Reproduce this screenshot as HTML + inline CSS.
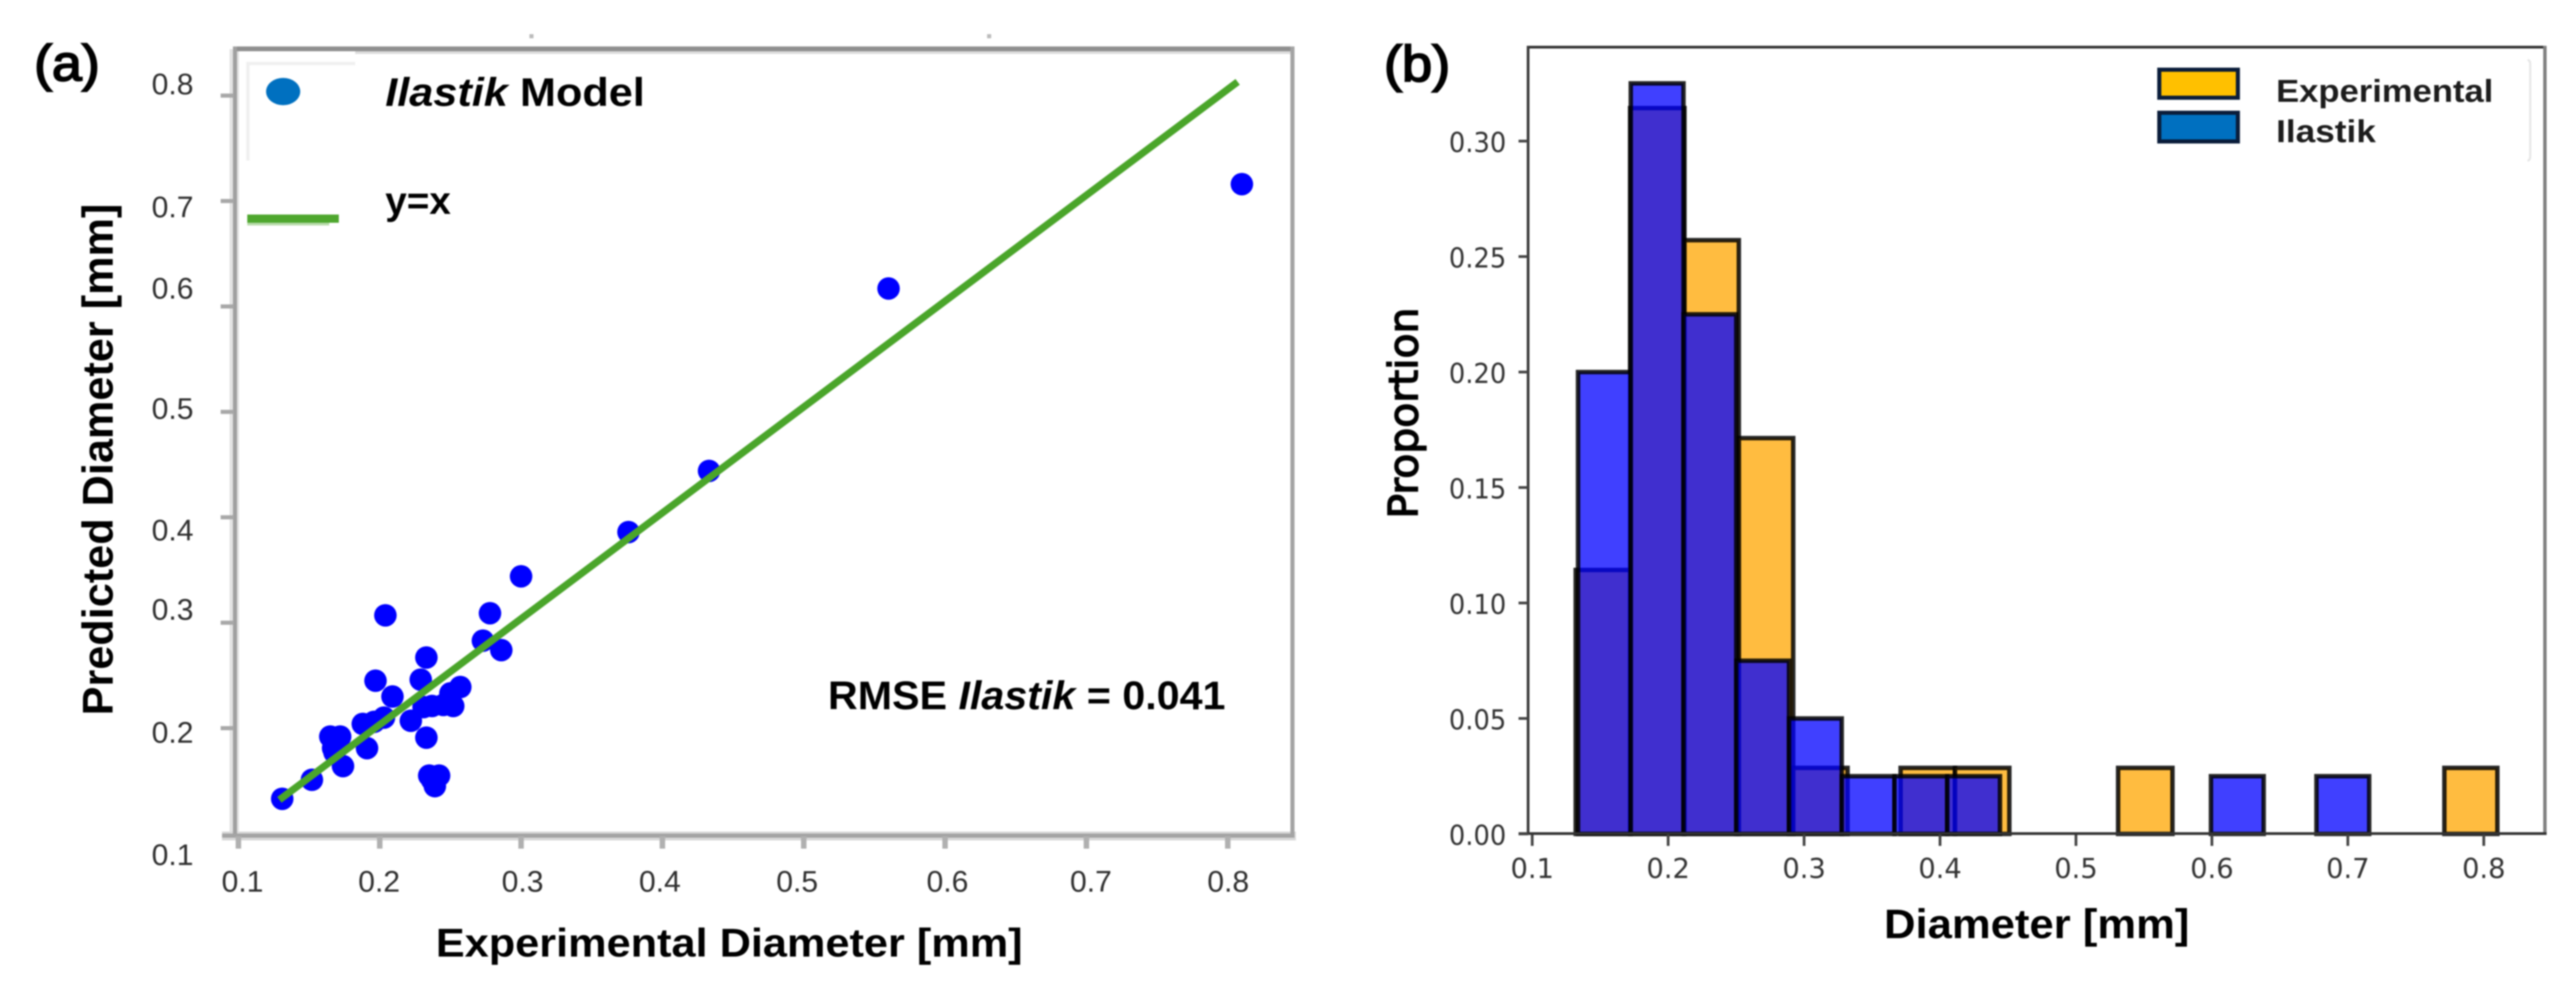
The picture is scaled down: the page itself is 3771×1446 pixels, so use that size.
<!DOCTYPE html>
<html lang="en">
<head>
<meta charset="utf-8">
<title>Ilastik model vs experimental diameter</title>
<style>
html,body{margin:0;padding:0;background:#fff;width:3771px;height:1446px;overflow:hidden}
svg{display:block;filter:blur(1.1px)}
text{font-family:"Liberation Sans",sans-serif}
.tickA{font-size:44px;fill:#2e2e2e}
.tickB{font-family:"DejaVu Sans",sans-serif;font-size:40px;fill:#333}
.bold{font-weight:bold;fill:#000}
</style>
</head>
<body>
<svg id="figure" xmlns="http://www.w3.org/2000/svg" width="3771" height="1446" viewBox="0 0 3771 1446">
  <rect width="3771" height="1446" fill="#fff"/>

  <g id="panel-a">
    <text x="50" y="118" textLength="96" lengthAdjust="spacingAndGlyphs" style="font-size:74px;stroke:#000;stroke-width:2.5px">(a)</text>
    <rect x="775" y="50" width="6" height="6" fill="#bbb"/>
    <rect x="1445" y="50" width="6" height="6" fill="#bbb"/>
    <g>
      <rect x="520" y="74" width="1372" height="5" fill="#dcdcdc"/>
      <rect x="336" y="72" width="14" height="1156" fill="#e4e4e4"/>
      <rect x="325" y="1217" width="1572" height="13" fill="#d8d8d8"/>
      <rect x="341" y="68" width="1554" height="7" fill="#8f8f8f"/>
      <rect x="341" y="68" width="6" height="1158" fill="#a0a0a0"/>
      <rect x="1889" y="68" width="6" height="1158" fill="#a4a4a4"/>
      <rect x="325" y="1220" width="1570" height="6" fill="#a4a4a4"/>
    </g>
    <g id="ticks-a"></g>
    <g>
      <text class="tickA" x="222" y="138">0.8</text>
      <text class="tickA" x="222" y="318">0.7</text>
      <text class="tickA" x="222" y="437">0.6</text>
      <text class="tickA" x="222" y="613">0.5</text>
      <text class="tickA" x="222" y="791">0.4</text>
      <text class="tickA" x="222" y="907">0.3</text>
      <text class="tickA" x="222" y="1087">0.2</text>
      <text class="tickA" x="222" y="1266">0.1</text>
    </g>
    <g text-anchor="middle">
      <text class="tickA" x="355" y="1305">0.1</text>
      <text class="tickA" x="555" y="1305">0.2</text>
      <text class="tickA" x="765" y="1305">0.3</text>
      <text class="tickA" x="966" y="1305">0.4</text>
      <text class="tickA" x="1167" y="1305">0.5</text>
      <text class="tickA" x="1387" y="1305">0.6</text>
      <text class="tickA" x="1597" y="1305">0.7</text>
      <text class="tickA" x="1798" y="1305">0.8</text>
    </g>
    <g id="scatter-points"></g>
    <g id="identity-line-group"></g>
    <g>
      <path d="M363 235V93H520" fill="none" stroke="#f0f0f0" stroke-width="5"/>
      <ellipse cx="414.5" cy="134" rx="25" ry="20" fill="#0070c0"/>
      <text class="bold" x="564" y="155" textLength="380" lengthAdjust="spacingAndGlyphs" style="font-size:58px"><tspan font-style="italic">Ilastik</tspan> Model</text>
      <rect x="362" y="326" width="120" height="4" fill="#b8dbab"/>
      <rect x="362" y="314" width="134" height="12" fill="#4ea72e"/>
      <text class="bold" x="564" y="313" textLength="96" lengthAdjust="spacingAndGlyphs" style="font-size:57px">y=x</text>
    </g>
    <text class="bold" x="1212" y="1038" textLength="582" lengthAdjust="spacingAndGlyphs" style="font-size:58px">RMSE <tspan font-style="italic">Ilastik</tspan> = 0.041</text>
    <text class="bold" x="638" y="1400" textLength="859" lengthAdjust="spacingAndGlyphs" style="font-size:58px">Experimental Diameter [mm]</text>
    <text class="bold" transform="translate(165,1047) rotate(-90)" textLength="749" lengthAdjust="spacingAndGlyphs" style="font-size:63px">Predicted Diameter [mm]</text>
  </g>

  <g id="panel-b">
    <text x="2026" y="119" textLength="97" lengthAdjust="spacingAndGlyphs" style="font-size:74px;stroke:#000;stroke-width:2.5px">(b)</text>
    <g id="bars-experimental"></g>
    <g id="bars-ilastik"></g>
    <g>
      <rect x="2235" y="67" width="1493" height="4" fill="#333"/>
      <rect x="2235" y="67" width="4" height="1155" fill="#3a3a3a"/>
      <rect x="3723" y="67" width="5" height="1155" fill="#808080"/>
      <rect x="2223" y="1218" width="1505" height="4" fill="#333"/>
    </g>
    <g id="ticks-b"></g>
    <g>
      <rect x="3161" y="102" width="115" height="41" fill="#ffc000" stroke="#0a1d3a" stroke-width="6"/>
      <rect x="3161" y="165" width="115" height="42" fill="#0070c0" stroke="#0a1d3a" stroke-width="6"/>
      <text x="3332" y="149" textLength="318" lengthAdjust="spacingAndGlyphs" style="font-size:46px;font-weight:bold;fill:#1c1c1c">Experimental</text>
      <text x="3332" y="208" textLength="146" lengthAdjust="spacingAndGlyphs" style="font-size:46px;font-weight:bold;fill:#1c1c1c">Ilastik</text>
      <path d="M3700 88Q3704 88 3704 94V228Q3704 235 3700 235" fill="none" stroke="#e6e6e6" stroke-width="3"/>
    </g>
    <text transform="translate(2075,759) rotate(-90)" textLength="309" lengthAdjust="spacingAndGlyphs" style="font-family:'DejaVu Sans',sans-serif;font-size:59px;fill:#000;stroke:#000;stroke-width:2px">Proportion</text>
    <text class="bold" x="2758" y="1373" textLength="447" lengthAdjust="spacingAndGlyphs" style="font-size:60px">Diameter [mm]</text>
  </g>
</svg>

<script>
// Panel (a): scatter values
const experimentalDiameter = [0.131,0.152,0.174,0.191,0.165,0.172,0.168,0.167,0.188,0.196,0.203,0.209,0.197,0.233,0.229,0.222,0.233,0.204,0.300,0.278,0.273,0.286,0.257,0.250,0.237,0.231,0.245,0.252,0.235,0.242,0.239,0.237,0.376,0.433,0.560,0.810];
const predictedDiameter    = [0.133,0.151,0.164,0.181,0.192,0.192,0.177,0.181,0.204,0.206,0.210,0.230,0.245,0.267,0.246,0.207,0.191,0.307,0.344,0.309,0.283,0.274,0.239,0.233,0.221,0.220,0.222,0.221,0.155,0.155,0.145,0.151,0.386,0.444,0.617,0.716];
const lineX = [0.129,0.807];
const lineY = [0.132,0.813];
const xTicksA = [0.1,0.2,0.3,0.4,0.5,0.6,0.7,0.8];
const yTicksA = [0.2,0.3,0.4,0.5,0.6,0.7,0.8];

// Panel (b): histogram bins and proportions
const experimentalEdges = [0.132,0.172,0.212,0.252,0.292,0.332,0.371,0.411,0.451,0.491,0.531,0.571,0.611,0.651,0.691,0.731,0.771,0.810];
const experimentalValues = [0.1143,0.3143,0.2571,0.1714,0.0286,0,0.0286,0.0286,0,0,0.0286,0,0,0,0,0,0.0286];
const ilastikEdges = [0.1337,0.1725,0.2113,0.2501,0.2889,0.3277,0.3665,0.4053,0.4441,0.4829,0.5217,0.5605,0.5993,0.6381,0.6769,0.7157];
const ilastikValues = [0.2,0.325,0.225,0.075,0.05,0.025,0.025,0.025,0,0,0,0,0.025,0,0.025];
const xTicksB = [0.1,0.2,0.3,0.4,0.5,0.6,0.7,0.8];
const yTicksB = [0,0.05,0.1,0.15,0.2,0.25,0.3];
const xTickLabelsB = ["0.1","0.2","0.3","0.4","0.5","0.6","0.7","0.8"];
const yTickLabelsB = ["0.00","0.05","0.10","0.15","0.20","0.25","0.30"];

const SVG_NS = "http://www.w3.org/2000/svg";
function xA(v){ return 349 + (v - 0.1) * 2069; }
function yA(v){ return 1220 - (v - 0.1) * 1543; }
function xB(v){ return 2243 + (v - 0.1) * 1990; }
function yB(v){ return 1220.5 - v * 3380; }
function make(tag, parent, attrs){
  const el = document.createElementNS(SVG_NS, tag);
  for (const k in attrs) el.setAttribute(k, attrs[k]);
  parent.appendChild(el);
  return el;
}

const ticksA = document.getElementById("ticks-a");
xTicksA.forEach(function(v){
  const t = make("rect", ticksA, {x: xA(v) - 4, y: 1224, width: 8, height: 18, fill: "#b0b0b0"});
  
  
});
yTicksA.forEach(function(v){
  const t = make("rect", ticksA, {x: 323, y: yA(v) - 3, width: 19, height: 6, fill: "#a8a8a8"});
  
  
});

const scatter = document.getElementById("scatter-points");
experimentalDiameter.forEach(function(v, i){
  const p = make("circle", scatter, {cx: xA(v), cy: yA(predictedDiameter[i]), r: 16.5, fill: "#0000ff"});
  
  
});

const lineGroup = document.getElementById("identity-line-group");
const identity = make("line", lineGroup, {x1: xA(lineX[0]), y1: yA(lineY[0]), x2: xA(lineX[1]), y2: yA(lineY[1]), stroke: "#4aa52a", "stroke-width": 10.5});



function drawBars(groupId, edges, values, color, name){
  const g = document.getElementById(groupId);
  values.forEach(function(h, i){
    if (h <= 0) return;
    const x0 = xB(edges[i]), x1 = xB(edges[i + 1]), top = yB(h), base = yB(0);
    const bar = make("rect", g, {x: x0, y: top, width: x1 - x0, height: base - top, fill: color, "fill-opacity": 0.75, stroke: "#000", "stroke-opacity": 0.85, "stroke-width": 6.5});
    
    
  });
}
drawBars("bars-experimental", experimentalEdges, experimentalValues, "#ffa500", "bar-experimental");
drawBars("bars-ilastik", ilastikEdges, ilastikValues, "#0000ff", "bar-ilastik");

const ticksB = document.getElementById("ticks-b");
xTicksB.forEach(function(v, i){
  const t = make("rect", ticksB, {x: xB(v) - 2, y: 1222, width: 4, height: 16, fill: "#444"});
  
  
  const l = make("text", ticksB, {x: xB(v), y: 1285, "text-anchor": "middle", class: "tickB"});
  l.textContent = xTickLabelsB[i];
  
  
});
yTicksB.forEach(function(v, i){
  const t = make("rect", ticksB, {x: 2223, y: yB(v) - 2, width: 14, height: 4, fill: "#444"});
  
  
  const l = make("text", ticksB, {x: 2205, y: yB(v) + 16, "text-anchor": "end", textLength: 84, lengthAdjust: "spacingAndGlyphs", class: "tickB"});
  l.textContent = yTickLabelsB[i];
  
  
});
</script>
</body>
</html>
